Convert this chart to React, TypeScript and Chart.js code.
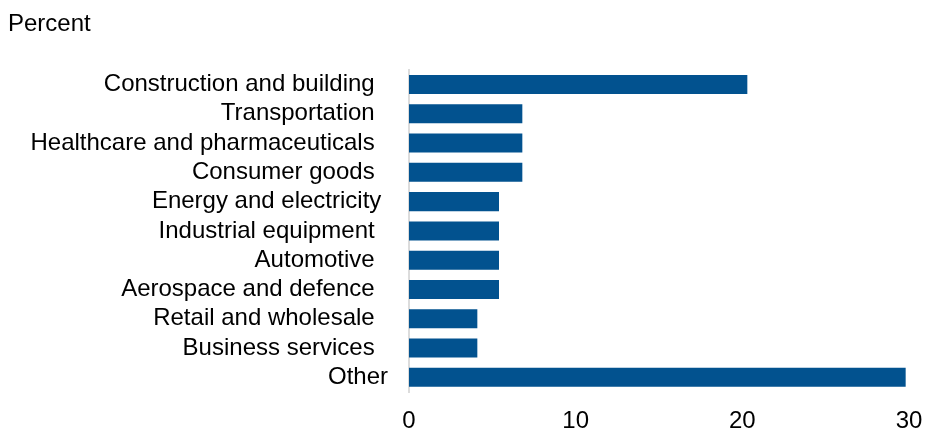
import { useEffect, useRef } from "react";
import { Chart, registerables } from "chart.js";

Chart.register(...registerables);

const categories = [
  "Construction and building  ",
  "Transportation  ",
  "Healthcare and pharmaceuticals  ",
  "Consumer goods  ",
  "Energy and electricity ",
  "Industrial equipment  ",
  "Automotive  ",
  "Aerospace and defence  ",
  "Retail and wholesale  ",
  "Business services  ",
  "Other",
];
const values = [20.3, 6.8, 6.8, 6.8, 5.4, 5.4, 5.4, 5.4, 4.1, 4.1, 29.8];
const xTickValues = [0, 10, 20, 30];
const titleText = "Percent";

const FONT = 'Arial, "Liberation Sans", sans-serif';
const BAR_COLOR = "#02528f";

export default function App() {
  const ref = useRef<HTMLCanvasElement | null>(null);

  useEffect(() => {
    document.body.style.margin = "0";
    const canvas = ref.current;
    if (!canvas) return;
    const chart = new Chart(canvas, {
      type: "bar",
      data: {
        labels: categories,
        datasets: [
          {
            data: values,
            backgroundColor: BAR_COLOR,
            borderWidth: 0,
            barPercentage: 0.65,
            categoryPercentage: 1,
          },
        ],
      },
      options: {
        indexAxis: "y",
        animation: false,
        responsive: true,
        maintainAspectRatio: false,
        layout: { padding: { left: 8, right: 16, top: 0, bottom: 0 } },
        plugins: {
          legend: { display: false },
          tooltip: { enabled: false },
          title: {
            display: true,
            text: titleText,
            align: "start",
            color: "#000",
            font: { family: FONT, size: 24, weight: "normal" },
            padding: { top: 10, bottom: 31 },
          },
        },
        scales: {
          x: {
            type: "linear",
            min: 0,
            max: 30,
            afterBuildTicks: (scale: any) => {
              scale.ticks = xTickValues.map((v) => ({ value: v }));
            },
            afterFit: (scale: any) => {
              scale.height = 39;
              scale.paddingLeft = 0;
              scale.paddingRight = 0;
            },
            grid: { display: false, drawTicks: false },
            border: { display: false },
            ticks: {
              color: "#000",
              padding: 15,
              font: { family: FONT, size: 24 },
            },
          },
          y: {
            afterFit: (scale: any) => {
              scale.width = 401;
              scale.paddingTop = 0;
              scale.paddingBottom = 0;
            },
            grid: { display: false, drawTicks: false },
            border: { display: true, color: "#dcdcdc", width: 2 },
            ticks: {
              color: "#000",
              padding: 21,
              autoSkip: false,
              font: { family: FONT, size: 24 },
            },
          },
        },
      },
    });
    return () => chart.destroy();
  }, []);

  return (
    <div style={{ position: "relative", width: 925, height: 431 }}>
      <canvas ref={ref} />
    </div>
  );
}
